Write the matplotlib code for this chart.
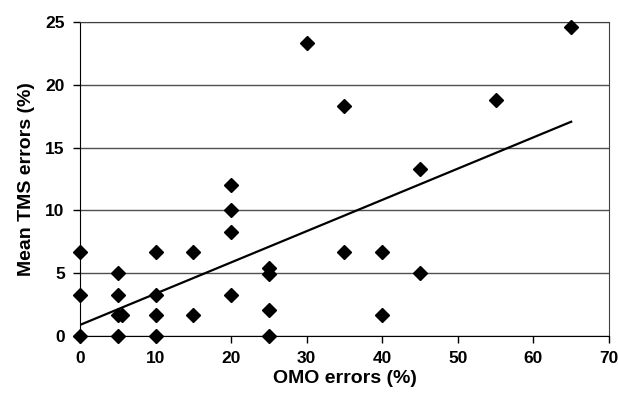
import matplotlib.pyplot as plt
import numpy as np

plt.rcParams['font.family'] = ['Liberation Sans', 'DejaVu Sans']
plt.rcParams['font.weight'] = 'bold'

# scatter data
omo = [0, 0, 0, 5, 5, 5, 5, 5.5, 10, 10, 10, 10, 15, 15, 20, 20, 20, 20,
       25, 25, 25, 25, 30, 35, 35, 40, 40, 45, 45, 55, 65]
tms = [0, 3.3, 6.7, 0, 1.7, 3.3, 5, 1.7, 0, 1.7, 3.3, 6.7, 1.7, 6.7, 3.3, 8.3, 10, 12,
       0, 2.05, 4.95, 5.4, 23.3, 6.7, 18.3, 1.7, 6.7, 5, 13.3, 18.8, 24.6]

# linear trend line endpoints
trend_x = [0, 65]
trend_y = [0.88, 17.06]

fig = plt.figure(figsize=(6.18, 3.98), dpi=100)
ax = fig.add_axes([0.1294, 0.1558, 0.8560, 0.7889])

ax.yaxis.grid(True, color='#505050', lw=1)
ax.set_axisbelow(True)
ax.plot(trend_x, trend_y, color='black', lw=1.6, zorder=2)
ax.plot(omo, tms, 'D', color='black', markersize=7.5, zorder=3, clip_on=False)

ax.set_xlim(0, 70)
ax.set_ylim(0, 25)
ax.set_xticks(range(0, 71, 10))
ax.set_yticks(range(0, 26, 5))
ax.tick_params(labelsize=12.5, direction='out', length=5, width=1, pad=6)

ax.spines['left'].set_color('black')
ax.spines['bottom'].set_color('black')
ax.spines['top'].set_color('#404040')
ax.spines['right'].set_color('#404040')

ax.set_xlabel('OMO errors (%)', fontsize=14, fontweight='bold', labelpad=3)
ax.set_ylabel('Mean TMS errors (%)', fontsize=14, fontweight='bold', labelpad=7)

fig.savefig('out.png', dpi=100)
